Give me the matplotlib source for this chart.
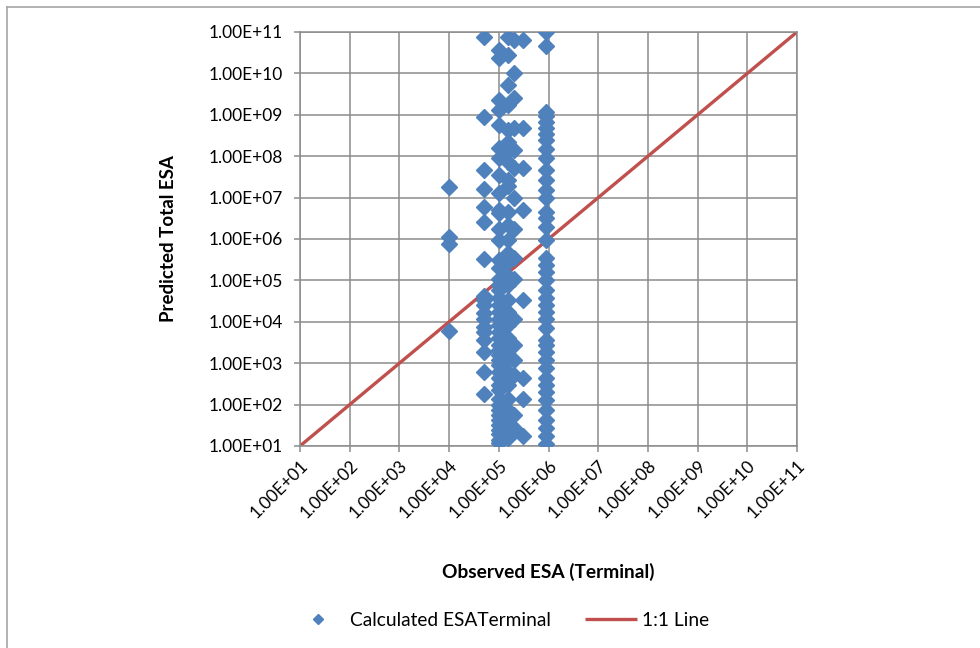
import matplotlib
matplotlib.use("Agg")
import matplotlib.pyplot as plt
from matplotlib.ticker import FuncFormatter, FixedLocator, NullLocator
from matplotlib.lines import Line2D

plt.rcParams['font.family'] = ['Lato', 'DejaVu Sans']

# predicted total ESA grouped by observed terminal ESA
pred_1e4 = [1.8e7, 1.1e6, 7.5e5, 6.0e3]
pred_5e4 = [7.6e10, 8.9e8, 4.7e7, 1.6e7, 5.9e6, 2.6e6, 3.3e5, 4.2e4, 3.4e4,
            2.6e4, 1.6e4, 1.2e4, 7.4e3, 5.6e3, 3.6e3, 1.9e3, 6.2e2, 1.8e2]
pred_1e5 = [3.7e10, 2.3e10, 2.3e9, 1.3e9, 5.6e8, 1.6e8, 9.1e7, 3.5e7, 1.3e7,
            5.0e6, 4.3e6, 1.7e6, 9.5e5, 3.1e5, 2.0e5, 1.1e5, 7.8e4, 5.9e4,
            3.7e4, 2.6e4, 1.7e4, 1.2e4, 8.3e3, 5.6e3, 4.1e3, 2.8e3, 2.1e3,
            1.6e3, 1.2e3, 9.1e2, 6.2e2, 4.4e2, 3.0e2, 2.2e2, 1.4e2, 9.8e1,
            7.4e1, 5.6e1, 4.3e1, 3.2e1, 2.5e1, 1.9e1, 1.4e1, 1.2e1]
pred_15e4 = [7.6e10, 2.8e10, 5.3e9, 1.7e9, 4.3e8, 2.2e8, 1.3e8, 7.2e7, 2.7e7,
             1.9e7, 4.5e6, 2.2e6, 9.5e5, 4.6e5, 2.8e5, 1.3e5, 7.8e4, 3.4e4,
             1.7e4, 8.3e3, 4.1e3, 2.1e3, 1.2e3, 6.2e2, 3.0e2, 1.4e2, 7.4e1,
             4.3e1, 2.5e1, 1.6e1]
pred_2e5 = [6.4e10, 1.0e10, 2.6e9, 4.8e8, 1.4e8, 5.1e7, 9.8e6, 1.7e6, 3.5e5,
            1.1e5, 1.2e4, 2.8e3, 1.2e3, 5.1e2, 5.6e1, 2.7e1]
pred_3e5 = [6.4e10, 4.8e8, 5.1e7, 5.0e6, 3.4e4, 4.4e2, 1.4e2, 1.7e1]
pred_9e5 = [1.0e11, 4.6e10, 1.2e9, 9.3e8, 6.8e8, 4.8e8, 3.5e8, 2.5e8, 1.5e8,
            9.1e7, 4.7e7, 2.7e7, 1.5e7, 9.8e6, 4.5e6, 3.2e6, 2.0e6, 9.5e5,
            3.5e5, 2.4e5, 1.6e5, 1.0e5, 5.9e4, 3.7e4, 2.6e4, 1.7e4, 1.2e4,
            7.0e3, 3.6e3, 2.8e3, 1.9e3, 1.2e3, 7.6e2, 4.4e2, 3.0e2, 2.0e2,
            1.3e2, 7.4e1, 4.3e1, 2.7e1, 1.7e1, 1.1e1]

observed_groups = [1.0e4, 5.0e4, 1.0e5, 1.5e5, 2.0e5, 3.0e5, 9.0e5]
predicted_groups = [pred_1e4, pred_5e4, pred_1e5, pred_15e4, pred_2e5,
                    pred_3e5, pred_9e5]

line_x = [1e1, 1e11]
line_y = [1e1, 1e11]
decades = [10.0 ** k for k in range(1, 12)]

obs = []
pred = []
for o, vals in zip(observed_groups, predicted_groups):
    obs += [o] * len(vals)
    pred += vals

fig = plt.figure(figsize=(9.8, 6.48), dpi=100)
ax = fig.add_axes([300 / 980, 1 - 446 / 648, 497 / 980, 414 / 648])

grid_c = '#8c8c8c'
ax.plot(line_x, line_y, color='#C0504D', lw=2.4, zorder=2, label='1:1 Line',
        solid_capstyle='butt')
ax.plot(obs, pred, linestyle='none', marker='D', ms=8.4, color='#4F81BD',
        mec='#4F81BD', zorder=3, label='Calculated ESATerminal')

ax.set_xscale('log')
ax.set_yscale('log')
ax.set_xlim(1e1, 1e11)
ax.set_ylim(1e1, 1e11)
ax.xaxis.set_major_locator(FixedLocator(decades))
ax.yaxis.set_major_locator(FixedLocator(decades))
ax.xaxis.set_minor_locator(NullLocator())
ax.yaxis.set_minor_locator(NullLocator())
fmt = FuncFormatter(lambda v, p: f"{v:.2E}")
ax.xaxis.set_major_formatter(fmt)
ax.yaxis.set_major_formatter(fmt)

ax.grid(True, color=grid_c, lw=1.1, zorder=0)
ax.set_axisbelow(True)
for s in ax.spines.values():
    s.set_color(grid_c)
    s.set_linewidth(1.1)
ax.tick_params(axis='both', colors=grid_c, length=4, width=1.1,
               labelcolor='black', labelsize=12.5)
ax.tick_params(axis='y', pad=8)
ax.tick_params(axis='x', pad=4)
for lab in ax.get_xticklabels():
    lab.set_rotation(45)
    lab.set_ha('right')
    lab.set_va('top')
    lab.set_rotation_mode('anchor')

ax.set_xlabel('Observed ESA (Terminal)', fontsize=13.8, fontweight='bold')
ax.set_ylabel('Predicted Total ESA', fontsize=13.5, fontweight='bold')
ax.xaxis.set_label_coords(0.5, -0.283)
ax.yaxis.set_label_coords(-0.248, 0.5)

h, l = ax.get_legend_handles_labels()
fig.legend(h[::-1], l[::-1], loc='center', bbox_to_anchor=(0.511, 1 - 620 / 648),
           ncol=2, frameon=False, fontsize=13.8, columnspacing=1.8,
           handlelength=2.7, handletextpad=0.3, markerscale=0.65)

# chart frame edges
fig.add_artist(Line2D([7 / 980, 1], [1 - 7 / 648, 1 - 7 / 648],
                      transform=fig.transFigure, color='#a6a6a6', lw=1.2))
fig.add_artist(Line2D([7 / 980, 7 / 980], [0, 1 - 7 / 648],
                      transform=fig.transFigure, color='#a6a6a6', lw=1.2))

fig.savefig('out.png', dpi=100)
